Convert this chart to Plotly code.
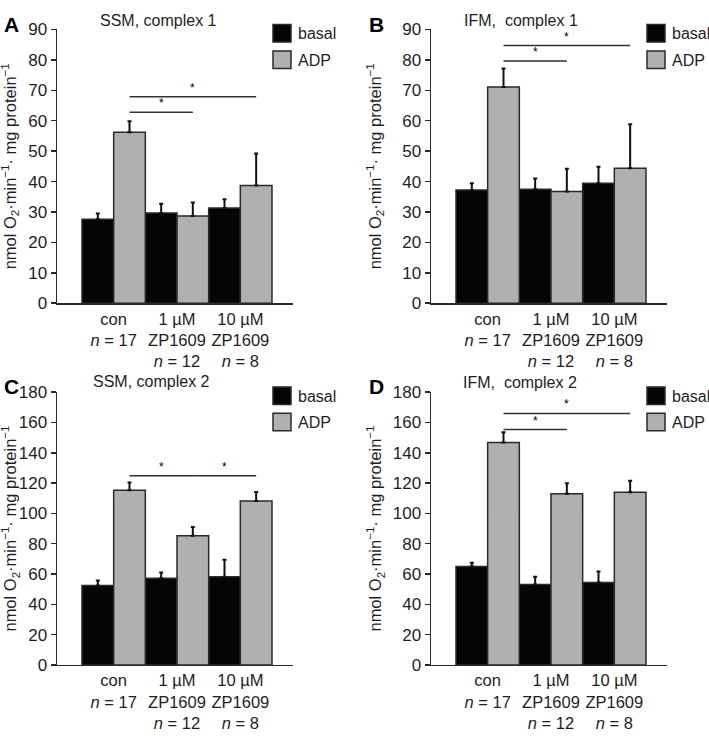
import plotly.graph_objects as go

W, H = 709, 737

# ---------------- data ----------------
groups = [0, 1, 2]
group_labels = ["con<br><i>n</i> = 17",
                "1 µM<br>ZP1609<br><i>n</i> = 12",
                "10 µM<br>ZP1609<br><i>n</i> = 8"]
series_names = ["basal", "ADP"]

panel_letters = ["A", "B", "C", "D"]
panel_titles = ["SSM, complex 1", "IFM,  complex 1", "SSM, complex 2", "IFM,  complex 2"]

basal_A = [27.6, 29.7, 31.3]
basal_A_err = [1.9, 3.0, 2.9]
adp_A = [56.2, 28.7, 38.7]
adp_A_err = [3.6, 4.4, 10.5]

basal_B = [37.2, 37.5, 39.4]
basal_B_err = [2.2, 3.5, 5.5]
adp_B = [71.1, 36.7, 44.4]
adp_B_err = [6.1, 7.5, 14.4]

basal_C = [52.4, 57.2, 58.2]
basal_C_err = [3.3, 3.8, 11.2]
adp_C = [115.2, 85.2, 108.2]
adp_C_err = [5.2, 5.8, 5.9]

basal_D = [64.9, 53.1, 54.4]
basal_D_err = [2.6, 5.1, 7.3]
adp_D = [146.7, 112.9, 113.9]
adp_D_err = [6.9, 7.0, 7.6]

# significance brackets: (from group, to group, height)
sig_A = [(0, 1, 62.8), (0, 2, 67.9)]
sig_B = [(0, 1, 79.6), (0, 2, 84.7)]
sig_C = [(0, 1, 124.9), (1, 2, 124.9)]
sig_D = [(0, 1, 155.3), (0, 2, 166.0)]

y_max = [90, 90, 180, 180]
y_step = [10, 10, 20, 20]

ytitle = "nmol O<sub>2</sub>·min<sup>−1</sup>· mg protein<sup>−1</sup>"

# ---------------- layout geometry (pixels) ----------------
FONT = "Liberation Sans, Arial, Helvetica, sans-serif"
TXT = "#1e1e1e"
GRAY = "#b0b0b0"
EDGE = "#2a2a2a"

# plot area in pixels: (left, right, top, bottom)
areas = [(57, 293, 21, 302), (431, 667, 21, 302),
         (57, 293, 393.3, 673.3), (431, 667, 393.3, 673.3)]
title_pos = [(158, 12), (521, 12), (151, 382), (520, 383)]
letter_pos = [(11, 16), (377, 16), (11, 387), (377, 388)]
ytitle_x = [10, 375, 10, 375]

def px(x):
    return x / W

def py(y):
    return 1 - y / H

data_sets = [(basal_A, basal_A_err, adp_A, adp_A_err, sig_A),
             (basal_B, basal_B_err, adp_B, adp_B_err, sig_B),
             (basal_C, basal_C_err, adp_C, adp_C_err, sig_C),
             (basal_D, basal_D_err, adp_D, adp_D_err, sig_D)]

fig = go.Figure()
shapes = []
annotations = []
layout_axes = {}

for i, (bas, bas_e, adp, adp_e, sig) in enumerate(data_sets):
    n = i + 1
    xa = "x" if n == 1 else f"x{n}"
    ya = "y" if n == 1 else f"y{n}"
    for name, vals, errs, col in [("basal", bas, bas_e, "#050505"),
                                  ("ADP", adp, adp_e, GRAY)]:
        fig.add_trace(go.Bar(
            x=groups, y=vals, name=name, xaxis=xa, yaxis=ya,
            offsetgroup=name, showlegend=False,
            marker=dict(color=col, line=dict(color=EDGE, width=1.5)),
            error_y=dict(type="data", symmetric=False, array=errs,
                         arrayminus=[0] * len(errs),
                         color="#111111", thickness=2, width=2),
        ))
    l, r, t, b = areas[i]
    x0 = -0.5 - (82 - 57) / 63.33
    x1 = x0 + (r - l) / 63.33
    layout_axes["xaxis" + ("" if n == 1 else str(n))] = dict(
        domain=[px(l), px(r)], range=[x0, x1], anchor=ya,
        showline=True, linecolor=EDGE, linewidth=1.5,
        ticks="", tickvals=groups, ticktext=group_labels,
        tickfont=dict(family=FONT, size=16.5, color=TXT),
        showgrid=False, zeroline=False, fixedrange=True,
    )
    layout_axes["yaxis" + ("" if n == 1 else str(n))] = dict(
        domain=[py(b), py(t)], range=[0, y_max[i]], anchor=xa,
        showline=True, linecolor=EDGE, linewidth=1.5,
        ticks="outside", ticklen=5, tickwidth=1.5, tickcolor=EDGE,
        dtick=y_step[i], tick0=0,
        tickfont=dict(family=FONT, size=17, color=TXT),
        showgrid=False, zeroline=False, fixedrange=True,
    )
    # significance brackets (ADP bar centres)
    for g0, g1, h in sig:
        xs = g0 + 0.25
        xe = g1 + 0.25
        shapes.append(dict(type="line", xref=xa, yref=ya, x0=xs, x1=xe,
                           y0=h, y1=h, line=dict(color="#333333", width=1.5)))
        annotations.append(dict(xref=xa, yref=ya, x=(xs + xe) / 2, y=h,
                                text="*", showarrow=False, yanchor="bottom",
                                yshift=0,
                                font=dict(family=FONT, size=12, color="#000000")))
    # legend (squares + text)
    dx = 0 if i % 2 == 0 else 374
    dy = 0 if i < 2 else 372
    for k, (name, col) in enumerate([("basal", "#050505"), ("ADP", GRAY)]):
        yt = 16 + dy + k * 27
        shapes.append(dict(type="rect", xref="paper", yref="paper",
                           x0=px(273 + dx), x1=px(291 + dx),
                           y0=py(yt + 18), y1=py(yt),
                           fillcolor=col, line=dict(color=EDGE, width=1.5)))
        annotations.append(dict(xref="paper", yref="paper",
                                x=px(296 + dx), y=py(yt + 9.5),
                                xanchor="left", yanchor="middle",
                                text=name, showarrow=False,
                                font=dict(family=FONT, size=16, color=TXT)))
    # title
    annotations.append(dict(xref="paper", yref="paper",
                            x=px(title_pos[i][0]), y=py(title_pos[i][1]),
                            xanchor="center", yanchor="middle",
                            text=panel_titles[i], showarrow=False,
                            font=dict(family=FONT, size=16, color=TXT)))
    # panel letter
    annotations.append(dict(xref="paper", yref="paper",
                            x=px(letter_pos[i][0]), y=py(letter_pos[i][1]),
                            xanchor="center", yanchor="middle",
                            text="<b>" + panel_letters[i] + "</b>", showarrow=False,
                            font=dict(family=FONT, size=21, color="#000000")))
    # y title
    annotations.append(dict(xref="paper", yref="paper",
                            x=px(ytitle_x[i]), y=py((t + b) / 2),
                            xanchor="center", yanchor="middle", textangle=-90,
                            text=ytitle, showarrow=False,
                            font=dict(family=FONT, size=16.5, color=TXT)))

fig.update_layout(
    width=W, height=H,
    margin=dict(l=0, r=0, t=0, b=0),
    paper_bgcolor="white", plot_bgcolor="white",
    barmode="group", bargap=0, bargroupgap=0,
    showlegend=False,
    shapes=shapes, annotations=annotations,
    **layout_axes,
)

fig.write_html("out.html",
               config={"displayModeBar": False, "staticPlot": True},
               post_script="document.body.style.margin='0';"
                           "document.body.style.overflow='hidden';")
